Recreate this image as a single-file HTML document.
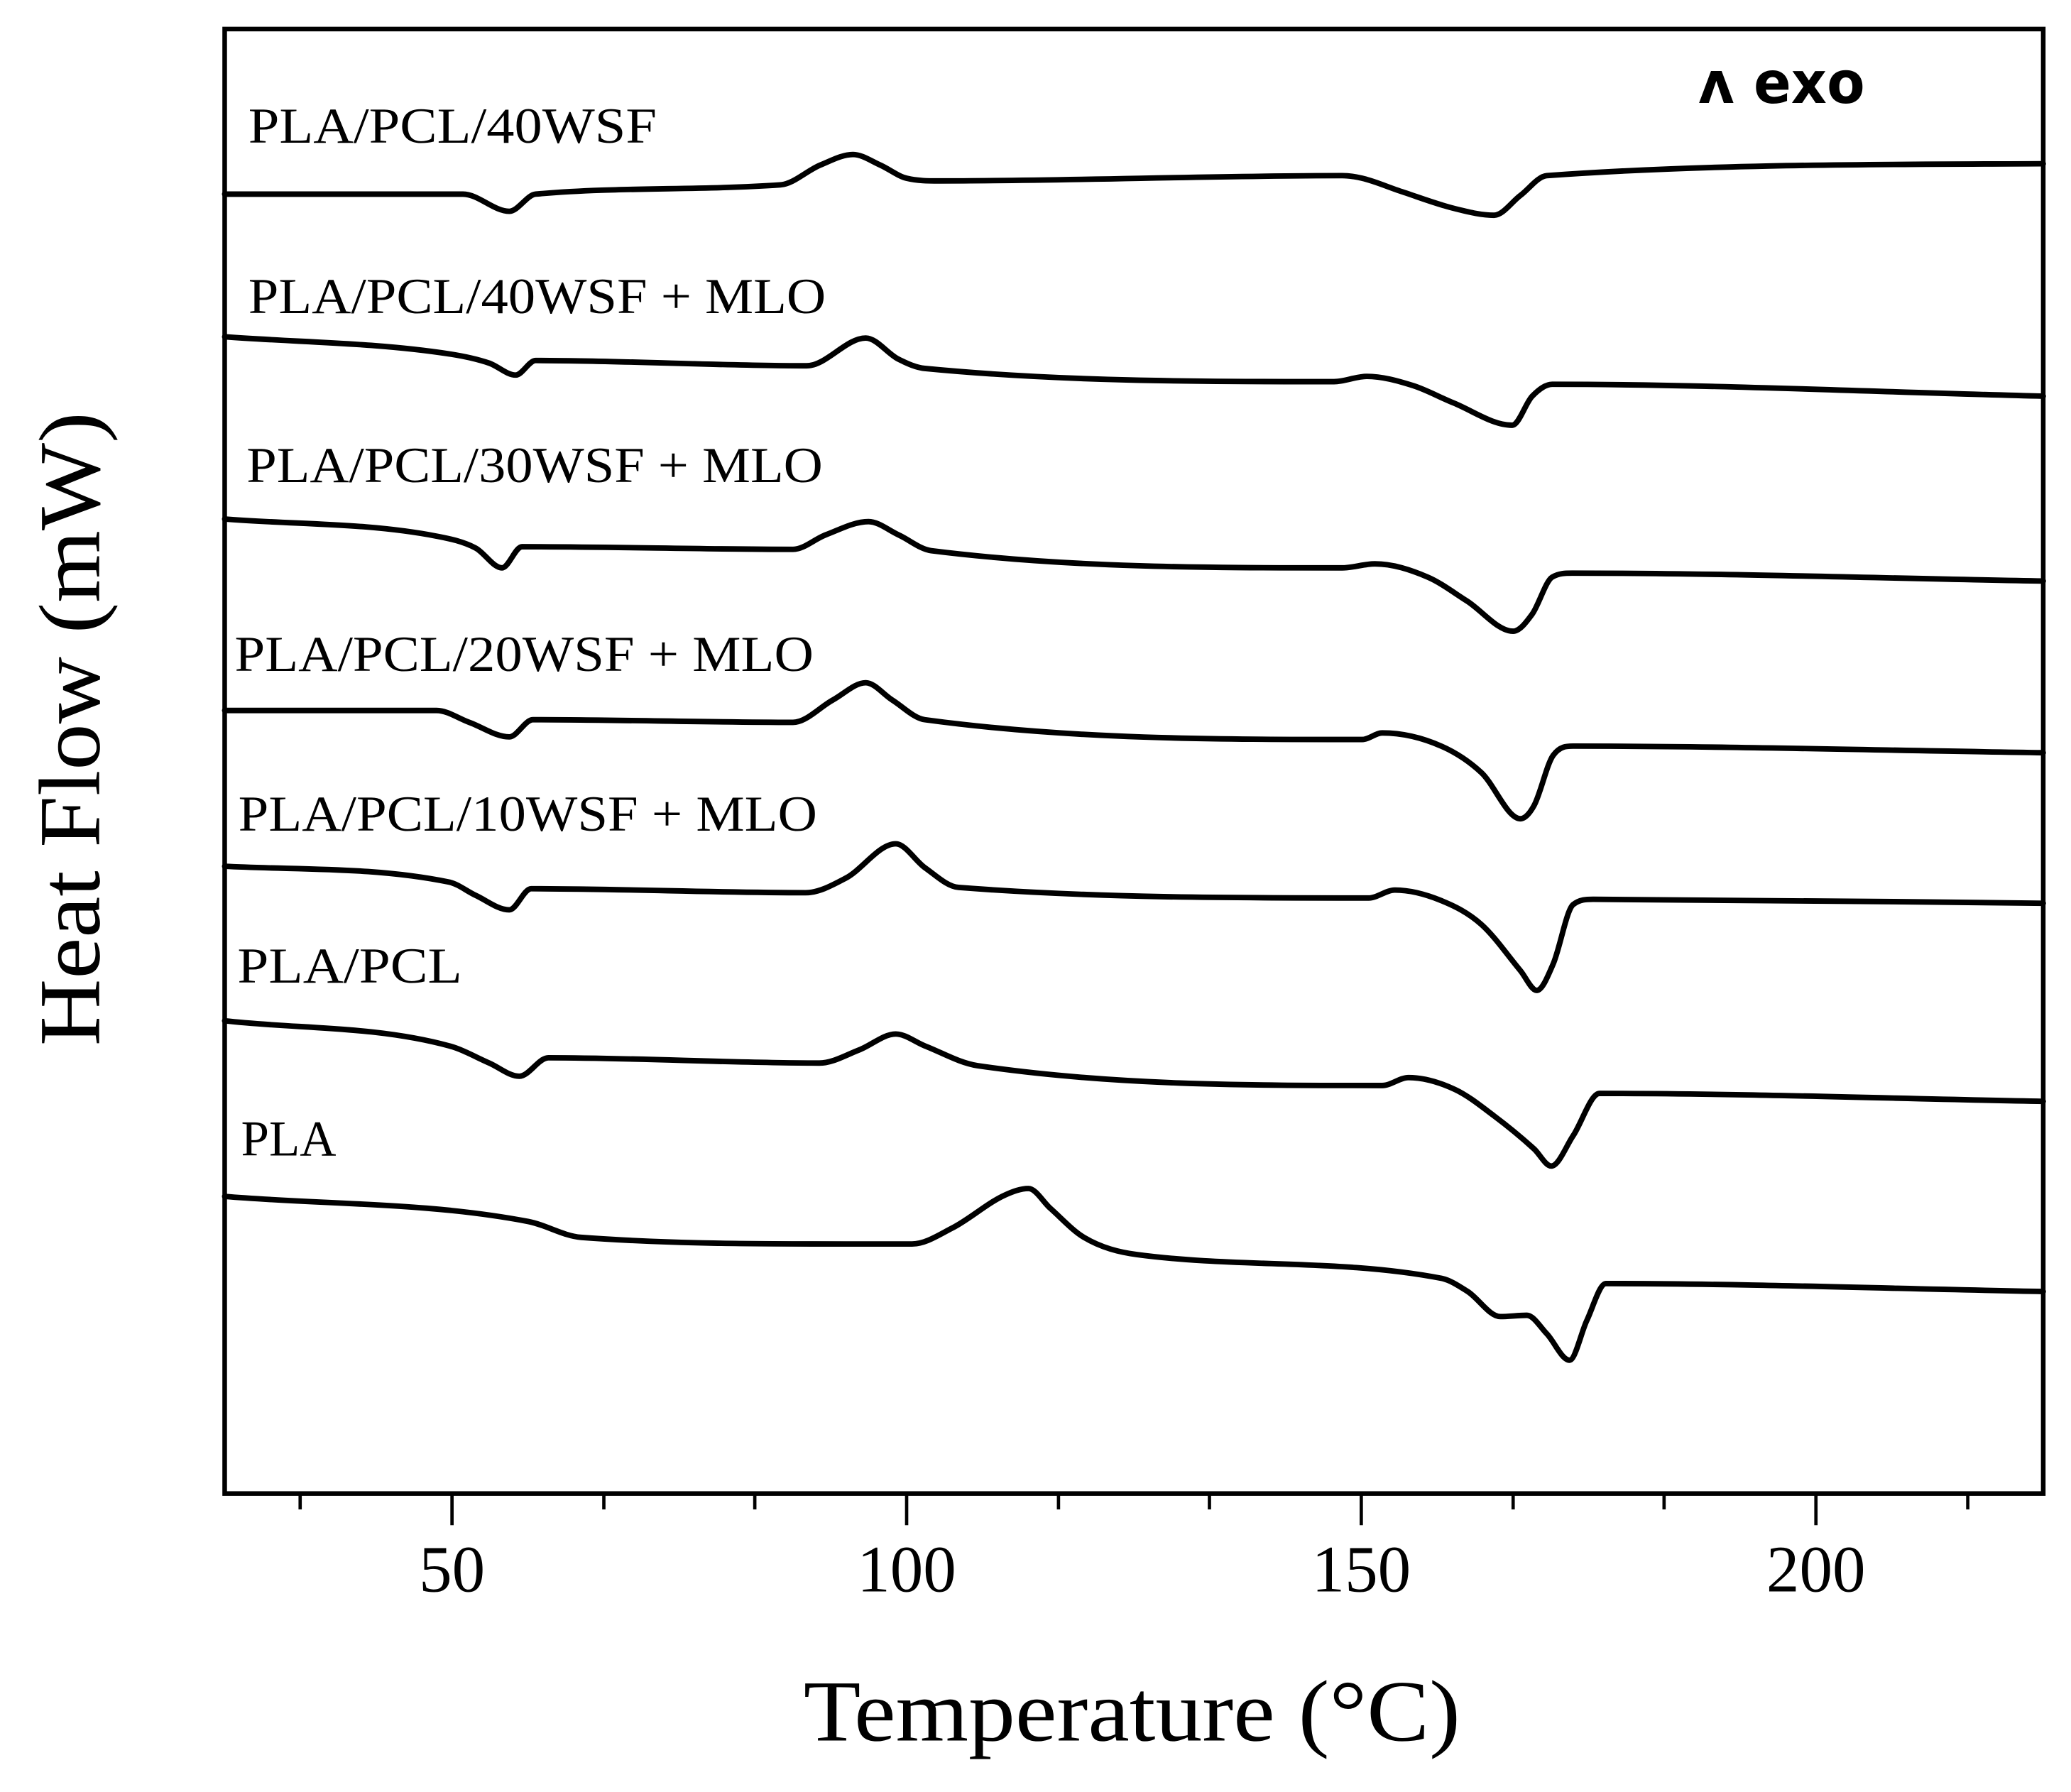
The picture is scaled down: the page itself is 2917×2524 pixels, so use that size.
<!DOCTYPE html>
<html><head><meta charset="utf-8">
<style>
html,body{margin:0;padding:0;background:#fff;}
svg{display:block;}
text{font-family:"Liberation Serif","DejaVu Serif",serif;fill:#000;}
</style></head>
<body>
<svg id="chart" width="2917" height="2524" viewBox="0 0 1567 1357" preserveAspectRatio="none" xmlns="http://www.w3.org/2000/svg">
<g id="plot"></g>
</svg>
<script>
// ---- data (temperature in °C, heat flow in arbitrary offset units; higher = exo up)
const xMajorTicks = [50, 100, 150, 200];
const xMinorTicks = [33.3, 66.7, 83.3, 116.7, 133.3, 166.7, 183.3, 216.7];
const seriesNames = ["PLA/PCL/40WSF", "PLA/PCL/40WSF + MLO", "PLA/PCL/30WSF + MLO", "PLA/PCL/20WSF + MLO", "PLA/PCL/10WSF + MLO", "PLA/PCL", "PLA"];
const labelPos = [[27.6, 1023], [27.6, 894], [27.4, 766], [26.1, 623], [26.5, 502], [26.4, 387], [26.8, 256]];
const labelWidths = [309, 437, 436, 438, 438, 170, 72];
const t40 = [25, 51.2, 56.3, 59.2, 86.1, 90.5, 94.1, 97.1, 100, 103.6, 147.9, 150.1, 154.4, 160.3, 164.6, 167.5, 170.4, 225];
const h40 = [984, 984, 971, 984, 991, 1006, 1014, 1006, 996, 994, 998, 996, 986, 973, 968, 983, 998, 1007];
const t40m = [25, 49.7, 54.1, 57, 59.2, 89, 95.5, 99.1, 102, 147, 150.6, 155.7, 160.1, 166.6, 168.8, 171, 225];
const h40m = [876, 863, 856, 847, 858, 854, 875, 859, 852, 842, 846, 839, 826, 809, 831, 840, 831];
const t30m = [25, 48.3, 52.6, 55.5, 57.7, 87.5, 91.1, 95.8, 99.1, 102.7, 147.9, 151.5, 157.3, 161.6, 166.7, 168.8, 171, 173.2, 225];
const h30m = [738, 725, 716, 701, 717, 715, 726, 736, 726, 714, 701, 704, 694, 676, 653, 666, 694, 697, 691];
const t20m = [25, 48.3, 51.9, 56.3, 58.9, 87.5, 91.9, 95.5, 98.4, 102, 150.1, 152.3, 158.8, 163.2, 167.5, 169, 171.1, 173.3, 225];
const h20m = [593, 593, 584, 573, 586, 584, 601, 614, 601, 586, 571, 576, 566, 546, 511, 521, 559, 566, 561];
const t10m = [25, 49.7, 52.6, 56.3, 58.7, 88.9, 93.3, 98.8, 102, 105.7, 150.8, 153.7, 158.8, 163.2, 167.5, 169.3, 171.1, 173.3, 175.5, 225];
const h10m = [475, 463, 453, 442, 458, 455, 466, 492, 474, 459, 451, 457, 449, 431, 396, 381, 401, 446, 450, 447];
const tPP = [25, 49.7, 54.1, 57.4, 60.6, 90.4, 94.8, 98.8, 102, 107.8, 152.3, 155.2, 160.3, 164.6, 169, 170.9, 173.3, 176.2, 225];
const hPP = [358, 339, 326, 316, 330, 326, 336, 348, 339, 324, 309, 315, 306, 286, 261, 248, 271, 303, 297];
const tPLA = [25, 58.4, 64.2, 93.3, 100.6, 105, 110.8, 113.4, 115.8, 119.5, 125.3, 158.8, 161.7, 165.3, 168.2, 170.4, 172.9, 174.8, 176.9, 225];
const hPLA = [225, 206, 194, 189, 189, 201, 226, 231, 216, 194, 181, 163, 153, 134, 135, 121, 101, 131, 159, 153];
const allT = [t40, t40m, t30m, t20m, t10m, tPP, tPLA];
const allH = [h40, h40m, h30m, h20m, h10m, hPP, hPLA];
const seriesIds = ["pla-pcl-40wsf", "pla-pcl-40wsf-mlo", "pla-pcl-30wsf-mlo", "pla-pcl-20wsf-mlo", "pla-pcl-10wsf-mlo", "pla-pcl", "pla"];

const X0 = 170, X1 = 1546, Y0 = 22, Y1 = 1131;
const xMin = 25, xMax = 225, yMin = 0, yMax = 1109;
function xs(t){ return X0 + (t - xMin) / (xMax - xMin) * (X1 - X0); }
function ys(v){ return Y1 - (v - yMin) / (yMax - yMin) * (Y1 - Y0); }
const NS = "http://www.w3.org/2000/svg";
const g = document.getElementById('plot');
function mk(tag, attrs){ const e = document.createElementNS(NS, tag); for (const k in attrs) e.setAttribute(k, attrs[k]); g.appendChild(e); return e; }

function monoPath(pts){
  const n = pts.length, d = [], m = [];
  for (let i = 0; i < n-1; i++) d.push((pts[i+1][1]-pts[i][1])/(pts[i+1][0]-pts[i][0]));
  m[0] = d[0]; m[n-1] = d[n-2];
  for (let i = 1; i < n-1; i++) m[i] = (d[i-1]*d[i] <= 0) ? 0 : (d[i-1]+d[i])/2;
  for (let i = 0; i < n-1; i++){
    if (d[i] === 0){ m[i] = 0; m[i+1] = 0; continue; }
    const a = m[i]/d[i], b = m[i+1]/d[i], s = a*a + b*b;
    if (s > 9){ const tau = 3/Math.sqrt(s); m[i] = tau*a*d[i]; m[i+1] = tau*b*d[i]; }
  }
  let p = `M${pts[0][0]},${pts[0][1]}`;
  for (let i = 0; i < n-1; i++){
    const h = (pts[i+1][0]-pts[i][0])/3;
    p += ` C${pts[i][0]+h},${pts[i][1]+m[i]*h} ${pts[i+1][0]-h},${pts[i+1][1]-m[i+1]*h} ${pts[i+1][0]},${pts[i+1][1]}`;
  }
  return p;
}

for (let s = 0; s < allT.length; s++){
  const pts = allT[s].map((t, i) => [xs(t), ys(allH[s][i])]);
  const p = mk('path', {d: monoPath(pts), fill: 'none', stroke: '#000', 'stroke-width': 4.2, 'stroke-linejoin': 'round', 'stroke-linecap': 'round'});
  
  
  const lb = mk('text', {x: xs(labelPos[s][0]), y: ys(labelPos[s][1]), 'font-size': 38, textLength: labelWidths[s], lengthAdjust: 'spacingAndGlyphs'});
  lb.textContent = seriesNames[s];
  
  
}

const fr = mk('rect', {x: X0, y: Y0, width: X1 - X0, height: Y1 - Y0, fill: 'none', stroke: '#000', 'stroke-width': 3.5});



for (const t of xMajorTicks){
  const l = mk('line', {x1: xs(t), x2: xs(t), y1: Y1, y2: Y1 + 24, stroke: '#000', 'stroke-width': 2.5});
  
  
  const tx = mk('text', {x: xs(t), y: 1205, 'font-size': 50, 'text-anchor': 'middle'});
  tx.textContent = String(t);
  
  
}
for (const t of xMinorTicks){
  const l = mk('line', {x1: xs(t), x2: xs(t), y1: Y1, y2: Y1 + 12, stroke: '#000', 'stroke-width': 2.5});
  
  
}

const xt = mk('text', {x: 608, y: 1318, 'font-size': 66, textLength: 497, lengthAdjust: 'spacingAndGlyphs'});
xt.textContent = 'Temperature (\u00B0C)';


const yt = mk('text', {x: -792, y: 75, 'font-size': 66, textLength: 480, lengthAdjust: 'spacingAndGlyphs', transform: 'rotate(-90)'});
yt.textContent = 'Heat Flow (mW)';


const exo = mk('text', {x: 1285, y: 78, 'font-size': 44, 'font-weight': 'bold', textLength: 126, lengthAdjust: 'spacingAndGlyphs', style: 'font-family:"DejaVu Sans","Liberation Sans",sans-serif'});
exo.textContent = '\u028C exo';


</script>
</body></html>
